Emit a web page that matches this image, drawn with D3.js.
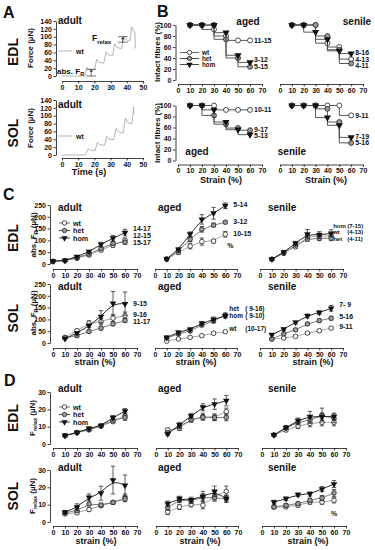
<!DOCTYPE html>
<html>
<head>
<meta charset="utf-8">
<script src="https://cdn.jsdelivr.net/npm/d3@7"></script>
<style>
body { margin: 0; background: #fff; }
</style>
</head>
<body>
<script>
// ---------- data ----------
var strainTicks = [0, 10, 20, 30, 40, 50, 60, 70];
var strain = [10, 20, 30, 40, 50, 60];
var strainEdl0 = [0, 10, 20, 30, 40, 50, 60];
var timeTicks = [0, 10, 20, 30, 40, 50];
var forceTicks = [0, 20, 40, 60, 80, 100, 120, 140];
var pctTicks = [0, 20, 40, 60, 80, 100];
var fRTicks = [0, 50, 100, 150, 200, 250];
var relaxTicks = [0, 10, 20, 30];
var genotypes = ["wt", "het", "hom"];

// A: example traces, adult wt fibres (time s / force uN)
var edlTime  = [0, 14, 15.4, 16.4, 18, 20, 21.4, 22.4, 24, 25.8, 27.2, 28.2, 29.8, 31.2, 32.6, 33.6, 35.2, 36.8, 38.2, 39.2, 40.8, 41.8, 43.2, 44, 45, 45.2];
var edlForce = [0, 0, 22, 18, 16, 15, 42, 36, 34, 33, 62, 55, 53, 52, 82, 74, 71, 70, 102, 93, 90, 89, 125, 116, 113, 70];
var solTime  = [0, 14.5, 16, 17, 19, 20.5, 21.8, 23, 25, 26.2, 27.6, 29, 30.8, 32, 33.4, 35, 36.6, 37.8, 39.2, 40.6, 42, 43.2, 44.2, 44.4];
var solForce = [0, 0, 16, 13, 12, 12, 32, 27, 25, 25, 48, 41, 39, 39, 68, 60, 57, 57, 94, 83, 80, 79, 122, 105];

// B: intact fibres (%)
var bEdlAged   = [[100, 100, 92, 80, 72, 72], [100, 100, 100, 74, 40, 24], [100, 100, 100, 86, 45, 32]];
var bEdlSenile = [[100, 100, 100, 67, 60, 38], [100, 100, 100, 80, 55, 30], [100, 100, 87, 74, 53, 48]];
var bSolAged   = [[100, 100, 100, 92, 92, 92], [100, 100, 82, 66, 59, 55], [100, 100, 92, 70, 56, 47]];
var bSolSenile = [[100, 100, 100, 100, 100, 82], [100, 100, 100, 94, 70, 32], [100, 100, 100, 78, 64, 42]];

// C: abs. F_R (uN), mean and error
var cEdlAdult     = [[11, 14, 24, 38, 59, 80, 100], [11, 14, 27, 42, 66, 88, 92], [12, 15, 31, 52, 83, 109, 133]];
var cEdlAdultErr  = [[3, 3, 4, 5, 7, 9, 10], [3, 3, 4, 5, 6, 8, 9], [3, 3, 5, 6, 9, 12, 14]];
var cEdlAged      = [[21, 49, 76, 95, 97, 126], [21, 55, 105, 147, 165, 177], [22, 62, 126, 189, 215, 247]];
var cEdlAgedErr   = [[3, 8, 12, 15, 8, 12], [3, 6, 10, 12, 8, 6], [3, 6, 10, 20, 25, 12]];
var cEdlSenile    = [[20, 47, 73, 116, 119, 119], [20, 45, 80, 105, 109, 109], [21, 50, 88, 126, 123, 130]];
var cEdlSenileErr = [[3, 4, 6, 10, 12, 10], [3, 4, 6, 8, 10, 10], [3, 5, 8, 20, 14, 15]];
var cSolAdult     = [[24, 52, 84, 91, 105, 116], [22, 31, 49, 63, 81, 95], [18, 42, 73, 112, 168, 166]];
var cSolAdultErr  = [[4, 6, 10, 12, 15, 15], [3, 5, 6, 8, 8, 8], [4, 6, 8, 25, 50, 50]];
var cSolAged      = [[8, 17, 24, 31, 41, 48], [21, 38, 51, 76, 93, 118], [24, 45, 58, 83, 100, 115]];
var cSolAgedErr   = [[2, 3, 4, 4, 5, 5], [4, 5, 6, 7, 8, 9], [4, 6, 6, 8, 10, 10]];
var cSolSenile    = [[17, 21, 28, 42, 52, 63], [17, 39, 56, 81, 95, 105], [35, 59, 87, 115, 129, 147]];
var cSolSenileErr = [[3, 3, 4, 5, 5, 6], [3, 4, 5, 6, 7, 8], [4, 5, 6, 8, 8, 12]];

// D: F_relax (uN)
var dEdlAdult     = [[4.8, 6.5, 8.1, 10.4, 12.9, 16.3], [4.8, 6.5, 8.5, 10.4, 13.8, 15.2], [4.9, 6.7, 9.0, 10.6, 15.2, 19.0]];
var dEdlAdultErr  = [[0.5, 0.6, 0.8, 0.8, 1.0, 1.5], [0.5, 0.6, 0.8, 0.8, 1.0, 1.5], [0.5, 0.6, 0.8, 0.8, 1.2, 1.5]];
var dEdlAged      = [[8.1, 9.0, 14.2, 15.8, 15.4, 18.7], [6.5, 10.0, 14.2, 15.4, 15.2, 15.4], [5.8, 11.0, 16.2, 21.2, 23.0, 25.0]];
var dEdlAgedErr   = [[1, 1.2, 1.5, 2, 2, 2], [1, 1.2, 1.5, 1.5, 1.5, 2], [1, 1.5, 1.5, 2, 3, 3]];
var dEdlSenile    = [[5.2, 8.1, 10.4, 11.9, 12.5, 12.5], [5.2, 9.4, 12.5, 13.8, 16.7, 14.8], [5.2, 9.4, 13.5, 15.8, 15.8, 15.8]];
var dEdlSenileErr = [[0.8, 1, 1.5, 2, 2, 2], [0.8, 1, 1.5, 2, 4, 2.5], [0.8, 1, 1.5, 3, 2, 2]];
var dSolAdult     = [[4.7, 5.3, 7.2, 9.4, 11.3, 14.2], [5.3, 6.6, 10.4, 9.8, 11.3, 13.2], [5.7, 8.5, 14.2, 16.6, 24.2, 21.1]];
var dSolAdultErr  = [[0.6, 0.8, 1, 1, 1, 2], [0.6, 0.8, 1, 1, 1, 1.5], [0.8, 2, 2, 4, 8, 6]];
var dSolAged      = [[5.8, 8.7, 10.2, 9.6, 14.7, 17.7], [8.3, 12.8, 12.1, 14.3, 14.0, 13.4], [10.6, 13.4, 12.8, 14.7, 17.7, 13.4]];
var dSolAgedErr   = [[1.5, 1.5, 1.5, 2, 2, 3], [1.5, 1.5, 1.5, 2, 2, 2], [1.5, 1.5, 1.5, 3, 3, 2]];
var dSolSenile    = [[8.7, 8.7, 9.6, 11.5, 11.5, 12.5], [8.7, 9.6, 10.6, 12.5, 13.8, 16.8], [11.5, 13.4, 15.7, 16.2, 19.0, 21.9]];
var dSolSenileErr = [[1, 1, 1, 1.2, 1.2, 1.5], [1, 1, 1, 1.2, 1.5, 2], [1, 1, 1, 1.2, 1.5, 2]];

// ---------- drawing ----------
var ink = "#111";
var lineCol = {wt: "#9a9a9a", het: "#6a6a6a", hom: "#111"};
var fillCol = {wt: "#fff", het: "#9a9a9a", hom: "#111"};

var svg = d3.select("body").append("svg")
  .attr("width", 375).attr("height", 550)
  .style("font-family", "'Liberation Sans', Arial, sans-serif")
  .style("font-weight", "bold");

function text(x, y, s, size, anchor, rot) {
  var t = svg.append("text").attr("x", x).attr("y", y)
    .attr("font-size", size).attr("fill", ink)
    .attr("text-anchor", anchor || "start").text(s);
  if (rot) t.attr("transform", "rotate(-90," + x + "," + y + ")");
  return t;
}

function subText(x, y, main, sub, rest, size, anchor, rot) {
  var t = svg.append("text").attr("x", x).attr("y", y)
    .attr("font-size", size).attr("fill", ink)
    .attr("text-anchor", anchor || "start");
  t.append("tspan").text(main);
  t.append("tspan").attr("dy", size * 0.3).attr("font-size", size * 0.7).text(sub);
  t.append("tspan").attr("dy", -size * 0.3).text(rest);
  if (rot) t.attr("transform", "rotate(-90," + x + "," + y + ")");
  return t;
}

function styleAxis(g) {
  g.attr("font-family", null).attr("font-size", null);
  g.selectAll("text").attr("font-size", 7).attr("fill", ink);
  g.selectAll("line,path").attr("stroke", ink).attr("stroke-width", 0.8);
}

function xAxis(x, yPos, ticks) {
  var g = svg.append("g").attr("transform", "translate(0," + yPos + ")")
    .call(d3.axisBottom(x).tickValues(ticks).tickSize(2.5).tickSizeOuter(0).tickPadding(1.5));
  styleAxis(g);
}

function yAxis(y, xPos, ticks) {
  var g = svg.append("g").attr("transform", "translate(" + xPos + ",0)")
    .call(d3.axisLeft(y).tickValues(ticks).tickSize(2.5).tickSizeOuter(0).tickPadding(1.5));
  styleAxis(g);
}

var triangle = d3.symbol().type(d3.symbolTriangle).size(20);

function marker(g, gt, cx, cy, r) {
  if (gt === "hom") {
    g.append("path").attr("d", triangle.size(r * r * 3.6)())
      .attr("transform", "translate(" + cx + "," + cy + ") rotate(180)")
      .attr("fill", ink);
  } else {
    g.append("circle").attr("cx", cx).attr("cy", cy).attr("r", r)
      .attr("fill", fillCol[gt]).attr("stroke", "#222").attr("stroke-width", 0.8);
  }
}

function series(x, y, xs, means, errs, curve, r) {
  genotypes.forEach(function (gt, k) {
    var g = svg.append("g");
    var pts = means[k].map(function (v, i) { return [xs[i], v]; });
    g.append("path").datum(pts)
      .attr("d", d3.line().x(function (d) { return x(d[0]); }).y(function (d) { return y(d[1]); }).curve(curve))
      .attr("fill", "none").attr("stroke", curve === d3.curveStepBefore ? "#444" : lineCol[gt])
      .attr("stroke-width", 0.9);
    if (errs) {
      pts.forEach(function (d, i) {
        var e = errs[k][i];
        var cx = x(d[0]);
        g.append("line").attr("x1", cx).attr("x2", cx)
          .attr("y1", y(d[1] - e)).attr("y2", y(d[1] + e))
          .attr("stroke", "#333").attr("stroke-width", 0.8);
        [d[1] - e, d[1] + e].forEach(function (v) {
          g.append("line").attr("x1", cx - 2.2).attr("x2", cx + 2.2)
            .attr("y1", y(v)).attr("y2", y(v))
            .attr("stroke", "#333").attr("stroke-width", 0.8);
        });
      });
    }
    pts.forEach(function (d) { marker(g, gt, x(d[0]), y(d[1]), r); });
  });
}

function legend(x0, x1, ys, size) {
  genotypes.forEach(function (gt, k) {
    var g = svg.append("g");
    g.append("line").attr("x1", x0).attr("x2", x1).attr("y1", ys[k]).attr("y2", ys[k])
      .attr("stroke", gt === "wt" ? "#555" : "#333").attr("stroke-width", 0.9);
    marker(g, gt, (x0 + x1) / 2, ys[k], 2.2);
    text(x1 + 3, ys[k] + size * 0.35, gt, size);
  });
}

// ----- panel A -----
var aX = d3.scaleLinear().domain([0, 50]).range([62, 143]);
var aYt = d3.scaleLinear().domain([0, 140]).range([76, 21]);
var aYb = d3.scaleLinear().domain([0, 140]).range([155, 100]);

[[aYt, edlTime, edlForce, 81], [aYb, solTime, solForce, 158]].forEach(function (p) {
  var y = p[0];
  yAxis(y, 56, forceTicks);
  xAxis(aX, p[3], timeTicks);
  svg.append("path").datum(d3.zip(p[1], p[2]))
    .attr("d", d3.line().x(function (d) { return aX(d[0]); }).y(function (d) { return y(d[1]); }))
    .attr("fill", "none").attr("stroke", "#b4b4b4").attr("stroke-width", 1);
});

function arrowBracket(y, t0, t1, f0, f1) {
  var g = svg.append("g").attr("stroke", "#333").attr("stroke-width", 0.7);
  [f0, f1].forEach(function (f) {
    g.append("line").attr("x1", aX(t0)).attr("x2", aX(t1)).attr("y1", y(f)).attr("y2", y(f));
  });
  var xm = aX((t0 + t1) / 2);
  g.append("line").attr("x1", xm).attr("x2", xm).attr("y1", y(f0)).attr("y2", y(f1) + 2);
  svg.append("path").attr("d", "M" + (xm - 1.8) + "," + (y(f1) + 2.5) + "L" + xm + "," + y(f1) + "L" + (xm + 1.8) + "," + (y(f1) + 2.5) + "Z")
    .attr("fill", "#333");
}
arrowBracket(aYt, 15, 21, 0, 17);
arrowBracket(aYt, 34.5, 40.5, 86, 100);
subText(57, 74, "abs. F", "R", "", 8);
subText(92, 41, "F", "relax", "", 8.5);

svg.append("line").attr("x1", 58).attr("x2", 72).attr("y1", 51).attr("y2", 51).attr("stroke", "#b4b4b4");
text(76, 53.5, "wt", 7);
svg.append("line").attr("x1", 58).attr("x2", 72).attr("y1", 136).attr("y2", 136).attr("stroke", "#b4b4b4");
text(76, 138.5, "wt", 7);
text(58, 24, "adult", 10);
text(58, 108, "adult", 10);
text(33, 48, "Force (\u00b5N)", 8, "middle", true);
text(33, 128, "Force (\u00b5N)", 8, "middle", true);
text(89, 175, "Time (s)", 9, "middle");

// ----- panel B -----
var bXl = d3.scaleLinear().domain([0, 70]).range([178, 262]);
var bXr = d3.scaleLinear().domain([0, 70]).range([280, 363]);
var bYt = d3.scaleLinear().domain([0, 100]).range([80, 25]);
var bYb = d3.scaleLinear().domain([0, 100]).range([160.5, 105.5]);

[[bXl, bYt, bEdlAged, 84, true], [bXr, bYt, bEdlSenile, 84, false],
 [bXl, bYb, bSolAged, 164.5, true], [bXr, bYb, bSolSenile, 164.5, false]].forEach(function (p) {
  xAxis(p[0], p[3], strainTicks);
  if (p[4]) yAxis(p[1], 175.5, pctTicks);
  series(p[0], p[1], strain, p[2], null, d3.curveStepBefore, 2.5);
});
legend(180, 199, [52.5, 58.5, 64.5], 6.3);
text(248, 25, "aged", 10, "middle");
text(357, 25, "senile", 10, "middle");
text(197, 155, "aged", 10, "middle");
text(292, 155, "senile", 10, "middle");
[[bXl, bYt, "11-15", 72], [bXl, bYt, "3-12", 37], [bXl, bYt, "5-15", 25],
 [bXr, bYt, "8-16", 49], [bXr, bYt, "4-13", 38], [bXr, bYt, "4-11", 27],
 [bXl, bYb, "10-11", 92], [bXl, bYb, "9-17", 57], [bXl, bYb, "5-13", 45],
 [bXr, bYb, "9-11", 82], [bXr, bYb, "7-19", 44], [bXr, bYb, "5-16", 32]].forEach(function (l) {
  text(l[0](60) + 4, l[1](l[3]) + 2.4, l[2], 7);
});
text(160, 52, "Intact fibres (%)", 8, "middle", true);
text(160, 133, "Intact fibres (%)", 8, "middle", true);
text(221, 183, "Strain (%)", 9, "middle");
text(326, 183, "Strain (%)", 9, "middle");

// ----- panels C and D -----
var cols = [
  d3.scaleLinear().domain([0, 70]).range([53, 137]),
  d3.scaleLinear().domain([0, 70]).range([155, 237]),
  d3.scaleLinear().domain([0, 70]).range([260, 343])
];
var dCols = [
  d3.scaleLinear().domain([0, 70]).range([53, 137]),
  d3.scaleLinear().domain([0, 70]).range([156, 238]),
  d3.scaleLinear().domain([0, 70]).range([262, 346])
];
var cY1 = d3.scaleLinear().domain([0, 250]).range([264, 205]);
var cY2 = d3.scaleLinear().domain([0, 250]).range([343, 284]);
var dY1 = d3.scaleLinear().domain([0, 30]).range([444, 392]);
var dY2 = d3.scaleLinear().domain([0, 30]).range([522, 470]);

var rows = [
  [cols, cY1, 269, fRTicks, [[cEdlAdult, cEdlAdultErr, strainEdl0], [cEdlAged, cEdlAgedErr, strain], [cEdlSenile, cEdlSenileErr, strain]]],
  [cols, cY2, 348, fRTicks, [[cSolAdult, cSolAdultErr, strain], [cSolAged, cSolAgedErr, strain], [cSolSenile, cSolSenileErr, strain]]],
  [dCols, dY1, 448, relaxTicks, [[dEdlAdult, dEdlAdultErr, strain], [dEdlAged, dEdlAgedErr, strain], [dEdlSenile, dEdlSenileErr, strain]]],
  [dCols, dY2, 526, relaxTicks, [[dSolAdult, dSolAdultErr, strain], [dSolAged, dSolAgedErr, strain], [dSolSenile, dSolSenileErr, strain]]]
];
rows.forEach(function (row) {
  row[0].forEach(function (x, c) {
    xAxis(x, row[2], strainTicks);
    if (c === 0) yAxis(row[1], 50, row[3]);
    var s = row[4][c];
    series(x, row[1], s[2], s[0], s[1], d3.curveBasis, 2.3);
  });
});

legend(59, 70, [223, 230.5, 238], 7.2);
legend(59, 70, [407, 414.5, 422], 7.2);

// row titles
[[208, "adult", "aged", "senile"], [287, "adult", "aged", "senile"],
 [389, "adult", "aged", "senile"], [468, "adult", "aged", "senile"]].forEach(function (r) {
  text(58, r[0] + 3, r[1], 10);
  text(158, r[0] + 3, r[2], 10);
  text(268, r[0] + 3, r[3], 10);
});

// C labels
[[cols[0], cY1, "14-17", 150], [cols[0], cY1, "12-15", 120], [cols[0], cY1, "15-17", 92],
 [cols[1], cY1, "5-14", 250], [cols[1], cY1, "3-12", 178], [cols[1], cY1, "10-15", 130],
 [cols[0], cY2, "9-15", 168], [cols[0], cY2, "9-16", 122], [cols[0], cY2, "11-17", 90],
 [cols[2], cY2, "7- 9", 162], [cols[2], cY2, "5-16", 110], [cols[2], cY2, "9-11", 70]].forEach(function (l) {
  text(l[0](60) + 8, l[1](l[3]) + 2.4, l[2], 7);
});
text(cols[1](60) + 2, cY1(80) + 2.5, "%", 7);
[["hom", "(7-15)", 160], ["wt", "(4-13)", 134], ["het", "(4-11)", 108]].forEach(function (l) {
  text(cols[2](60) + 2, cY1(l[2]) + 2.1, l[0], 6);
  text(cols[2](60) + 16, cY1(l[2]) + 2.1, l[1], 6);
});
[["het", "( 9-16)", 145], ["hom", "( 9-10)", 115], ["wt", "(10-17)", 59]].forEach(function (l) {
  text(cols[1](60) + 4, cY2(l[2]) + 2.4, l[0], 6.5);
  text(cols[1](60) + 20, cY2(l[2]) + 2.4, l[1], 6.5);
});
text(dCols[2](60), dY2(5) + 2.5, "%", 7, "middle");

subText(36, 235, "abs. F", "R", " (\u00b5N)", 8, "middle", true);
subText(36, 313, "abs. F", "R", " (\u00b5N)", 8, "middle", true);
subText(35, 418, "F", "relax", " (\u00b5N)", 8, "middle", true);
subText(35, 496, "F", "relax", " (\u00b5N)", 8, "middle", true);
[[95, 365], [196, 365], [313, 365], [96, 544], [200, 544], [308, 544]].forEach(function (p) {
  text(p[0], p[1], "strain (%)", 9, "middle");
});

// panel letters and muscle labels
text(3, 18, "A", 16);
text(157, 17, "B", 16);
text(3, 200, "C", 16);
text(4, 386, "D", 16);
[[52, "EDL"], [133, "SOL"], [238, "EDL"], [318, "SOL"], [418, "EDL"], [496, "SOL"]].forEach(function (m) {
  text(18, m[0], m[1], 14, "middle", true);
});
</script>
</body>
</html>
